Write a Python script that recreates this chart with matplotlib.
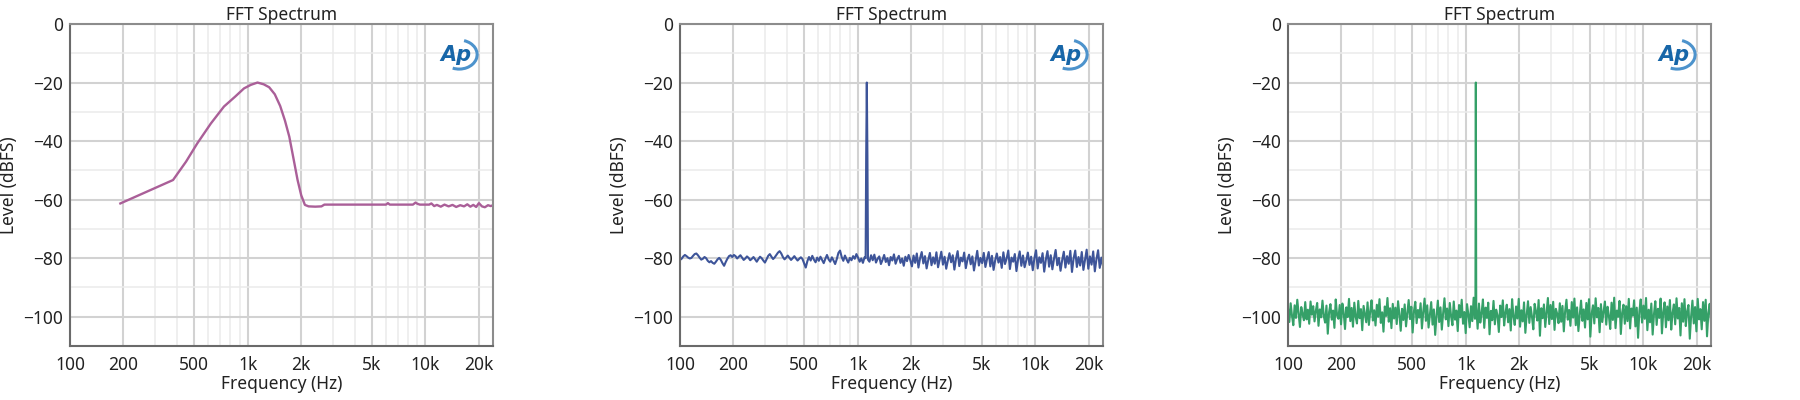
import numpy as np
import matplotlib.pyplot as plt
from matplotlib.patches import Arc

plt.rcParams['font.family'] = ['Noto Sans', 'DejaVu Sans']

# x axis
f_min, f_max = 100, 24000
major_freqs = [100, 200, 500, 1000, 2000, 5000, 10000, 20000]
major_labels = ['100', '200', '500', '1k', '2k', '5k', '10k', '20k']
minor_freqs = [300, 400, 600, 700, 800, 900, 3000, 4000, 6000, 7000, 8000, 9000]
level_ticks = [0, -20, -40, -60, -80, -100]
level_minor = [-10, -30, -50, -70, -90, -110]

# panel 1: filtered response
p1_freqs = [192, 380, 450, 520, 620, 735, 850, 953, 1040, 1135, 1230, 1320, 1420, 1523,
            1620, 1714, 1810, 1908, 2000, 2098, 2200, 2400, 2600, 2700, 3500, 4500, 5500,
            6000, 6150, 6300, 7500, 8500, 8800, 9000, 9300, 10500, 10800, 11200, 11600,
            12200, 12800, 13500, 14200, 14900, 15700, 16500, 17200, 17900, 18600, 19300,
            20000, 20800, 21600, 22500, 23300, 24000]
p1_levels = [-61.3, -53.3, -47.0, -40.8, -34.0, -28.2, -24.8, -22.0, -20.8, -20.0, -20.6,
             -21.6, -24.0, -28.0, -33.0, -38.5, -46.0, -53.3, -58.5, -61.8, -62.3, -62.4,
             -62.3, -61.7, -61.7, -61.7, -61.7, -61.7, -61.2, -61.7, -61.7, -61.7, -61.0,
             -61.4, -61.7, -61.7, -61.3, -62.2, -61.8, -62.4, -61.7, -62.3, -61.8, -62.5,
             -61.9, -62.3, -61.6, -62.4, -61.8, -62.5, -61.2, -62.3, -62.6, -61.9, -62.2,
             -61.9]

# panel 2: tone over -80 dBFS noise floor
p2_noise = [
    -80.6, -80.2, -79.4, -78.9, -79.3, -79.8, -80.1, -79.9, -79.2, -78.6, -78.4, -79.0,
    -79.8, -80.5, -80.2, -79.6, -80.0, -80.9, -81.4, -81.0, -81.6, -81.9, -81.2, -80.4,
    -79.9, -80.6, -81.7, -82.6, -81.3, -80.2, -79.3, -79.0, -79.6,
    -78.9, -79.3, -80.1, -79.5, -79.0, -79.8, -80.6, -80.1, -79.4, -79.9,
    -80.7, -80.2, -79.6, -80.4, -81.2, -80.3, -79.5, -80.0, -80.8, -81.5,
    -80.4, -79.2, -78.6, -79.5, -80.3, -79.7, -78.9, -78.1, -77.6, -78.4,
    -79.6, -80.4, -79.8, -79.1, -79.9, -80.6, -80.0, -79.3, -80.1, -80.8,
    -80.2, -79.7, -80.3,
    -81.8, -83.2, -81.0, -79.6, -80.8, -79.2, -80.5, -81.4, -79.8, -80.9,
    -79.5, -80.6, -81.7, -80.2, -78.9, -80.4, -81.2, -79.7, -80.8, -82.0,
    -80.3, -78.2, -77.4, -79.6, -80.9, -79.1, -80.4, -81.5, -79.9, -80.7,
    -79.3, -80.2, -78.6,
    -79.8, -81.2, -80.1, -81.6, -79.7,
    -80.5, -84.6, -81.2, -79.0, -80.7, -78.8, -81.5, -80.2, -79.4, -82.0,
    -80.6, -78.9, -81.3, -80.0, -82.4, -79.6, -80.8, -78.7, -81.9, -80.3,
    -79.2, -81.6, -80.1, -82.6, -79.5, -81.0, -78.9, -80.7,
    -82.8, -79.1, -81.6, -78.4, -83.2, -80.0, -77.9, -81.8, -79.3, -83.5,
    -80.6, -78.2, -82.4, -79.7, -81.9, -78.0, -83.1, -80.4, -77.8, -82.2,
    -79.5, -83.6, -80.8, -78.3, -81.4, -79.0, -83.9, -80.2, -77.6, -82.7,
    -79.8, -81.1, -78.1, -83.4, -80.5, -78.8, -82.1, -79.4, -84.2, -80.9,
    -77.5, -82.5, -79.9, -81.7, -78.2, -83.0, -80.3, -77.9, -82.8, -79.2,
    -84.0, -80.7, -78.4, -81.5, -79.6, -83.3, -78.0, -82.0, -80.1, -77.4,
    -83.7, -79.8, -81.2, -78.6, -84.4, -80.4, -77.7, -82.6, -79.1, -83.1,
    -80.8, -78.1, -82.3, -79.5, -84.1, -80.0, -77.3, -83.5, -79.7, -81.6,
    -78.3, -84.6, -80.5, -77.6, -82.9, -79.0, -83.8, -80.2, -77.2, -82.4,
    -79.9, -84.3, -80.7, -77.8, -83.2, -79.3, -81.9, -77.5, -84.7, -80.1,
    -77.4, -83.0, -79.6, -82.5, -77.9, -84.0, -80.6, -77.1, -83.6, -79.4,
    -82.2, -77.7, -84.5, -80.3, -77.3, -83.3, -79.8, -82.7]
p2_spike_freqs = [1108, 1116, 1125, 1134, 1142]
p2_spike_levels = [-80.0, -45.0, -20.0, -45.0, -80.5]

# panel 3: tone over -100 dBFS noise floor
p3_noise = [
    -97.2, -101.8, -95.4, -99.6, -102.9, -96.1, -100.4, -94.2, -98.8, -103.5, -96.7, -99.1, -101.2, -95.0, -100.9, -97.6,
    -102.4, -94.8, -99.3, -96.4, -101.6, -98.0, -95.3, -103.1, -97.5, -100.2, -94.5, -99.8, -102.0, -96.2, -105.8, -98.4,
    -95.7, -101.0, -97.9, -103.8, -94.1, -99.5, -100.7, -96.0, -102.6, -95.5, -98.6, -104.2, -96.8, -100.1, -93.9, -101.5,
    -97.0, -103.4, -95.2, -99.9, -102.3, -94.6, -100.5, -97.4, -104.6, -96.3, -99.0, -101.9, -95.1, -102.8, -98.2, -94.4,
    -101.3, -97.8, -103.0, -95.9, -100.0, -94.0, -102.1, -98.5, -105.1, -96.5, -99.7, -93.6, -101.7, -97.1, -103.9, -95.6,
    -100.6, -96.9, -102.5, -94.7, -99.2, -104.8, -97.3, -101.1, -95.8, -103.3, -98.9, -94.3, -100.8, -96.6, -105.4, -98.1,
    -94.9, -102.2, -97.7, -100.3, -95.4, -104.0, -98.3, -93.8, -101.4, -96.1, -103.7, -99.4, -95.0, -102.7, -97.5, -106.2,
    -99.6, -94.5, -101.8, -96.8, -104.4, -98.7, -93.7, -100.9, -97.2, -103.2, -95.3, -99.8, -102.9, -94.8, -101.0, -97.9,
    -104.9, -96.0, -100.2, -94.2, -102.4, -98.4, -105.6, -95.7, -99.1, -103.6, -96.4, -101.5, -93.5, -100.7, -97.0, -104.1,
    -95.5, -102.0, -98.8, -94.1, -103.8, -96.9, -100.4, -95.2, -106.0, -98.0, -101.2, -94.6, -102.6, -97.6, -99.5, -105.2,
    -96.2, -100.1, -94.4, -103.0, -98.6, -95.9, -101.9, -97.4, -104.7, -94.0, -99.9, -102.8, -96.5, -100.6, -93.9, -103.4,
    -97.8, -101.6, -95.1, -105.5, -99.3, -94.7, -102.1, -96.7, -100.0, -104.3, -95.6, -98.2, -101.3, -94.3, -106.5, -97.1,
    -100.5, -95.8, -103.5, -98.5, -93.6, -102.5, -96.0, -100.8, -94.9, -104.5, -97.3, -99.0, -102.2, -95.4, -101.7, -96.3,
    -105.0, -98.1, -94.2, -101.0, -97.7, -103.1, -95.0, -100.3, -93.8, -102.9, -96.8, -104.9, -99.4, -94.5, -101.4, -97.5,
    -103.7, -95.3, -100.9, -94.0, -106.8, -98.9, -96.1, -102.3, -93.7, -100.2, -97.0, -105.3, -95.7, -101.8, -98.3, -94.8,
    -102.7, -96.6, -99.7, -104.2, -95.2, -101.1, -93.5, -103.9, -97.9, -100.0, -94.6, -105.9, -98.6, -95.9, -102.4, -96.4,
    -101.5, -93.9, -104.0, -97.2, -99.6, -94.4, -103.3, -96.9, -107.2, -98.0, -94.1, -102.0, -96.2, -100.7, -93.6, -104.6,
    -97.6, -101.9, -95.5, -106.1, -99.1, -94.7, -102.8, -97.3, -100.4, -93.8, -105.7, -98.4, -95.1, -103.6, -96.5, -101.2,
    -94.3, -104.4, -98.7, -95.8, -102.6, -93.7, -100.6, -97.0, -106.4, -95.4, -101.7, -94.0, -103.2, -98.2, -96.0, -107.5,
    -99.8, -94.5, -102.3, -96.7, -105.0, -93.9, -100.9, -97.4, -104.3, -95.0, -101.4, -94.2, -106.7, -98.8, -95.6, -102.1]
p3_spike_freqs = [1134, 1140, 1146]
p3_spike_levels = [-96.0, -20.0, -96.5]


def merge_spike(noise, spike_f, spike_l):
    nf = np.geomspace(f_min, f_max, len(noise))
    nl = np.array(noise)
    keep = (nf < spike_f[0] - 2) | (nf > spike_f[-1] + 2)
    f = np.concatenate([nf[keep], spike_f])
    l = np.concatenate([nl[keep], spike_l])
    order = np.argsort(f)
    return f[order], l[order]


def style_axes(ax):
    ax.set_xscale('log')
    ax.set_xlim(f_min, f_max)
    ax.set_ylim(-110, 0)
    ax.set_xticks(major_freqs)
    ax.set_xticklabels(major_labels)
    ax.set_xticks(minor_freqs, minor=True)
    ax.set_xticklabels([], minor=True)
    ax.set_yticks(level_ticks)
    ax.set_yticks(level_minor, minor=True)
    ax.tick_params(which='both', length=0, labelsize=12.5, colors='#222222')
    ax.tick_params(axis='x', pad=7)
    ax.tick_params(axis='y', pad=5)
    ax.grid(which='major', color='#d2d2d2', lw=1.5)
    ax.grid(which='minor', color='#ebebeb', lw=1.1)
    ax.set_axisbelow(True)
    for s in ['top', 'right']:
        ax.spines[s].set_color('#8c8c8c')
        ax.spines[s].set_linewidth(1.5)
    for s in ['left', 'bottom']:
        ax.spines[s].set_color('#6a6a6a')
        ax.spines[s].set_linewidth(1.5)
    ax.set_title('FFT Spectrum', fontsize=12.5, color='#222222', pad=2)
    ax.set_xlabel('Frequency (Hz)', fontsize=12.5, color='#222222', labelpad=1)
    ax.set_ylabel('Level (dBFS)', fontsize=12.5, color='#222222', labelpad=4)
    # Ap logo
    ax.text(0.912, 0.905, 'Ap', transform=ax.transAxes, fontsize=15, fontweight='bold',
            fontstyle='italic', family='DejaVu Sans', color='#1766a8', ha='center',
            va='center', zorder=5)
    ax.add_patch(Arc((0.92, 0.905), 0.085, 0.09, theta1=-110, theta2=75,
                     transform=ax.transAxes, color='#4d93cc', lw=2.2, zorder=5))


fig = plt.figure(figsize=(18, 4), dpi=100)
lefts = [70, 680, 1288]
axes = [fig.add_axes([l / 1800, 54 / 400, 423 / 1800, 322 / 400]) for l in lefts]

axes[0].plot(p1_freqs, p1_levels, color='#aa5f98', lw=1.7)

f2, l2 = merge_spike(p2_noise, p2_spike_freqs, p2_spike_levels)
axes[1].plot(f2, l2, color='#3d5499', lw=1.5)

f3, l3 = merge_spike(p3_noise, p3_spike_freqs, p3_spike_levels)
axes[2].plot(f3, l3, color='#35a068', lw=1.5)

for ax in axes:
    style_axes(ax)

fig.savefig('out.png', dpi=100, facecolor='white')
